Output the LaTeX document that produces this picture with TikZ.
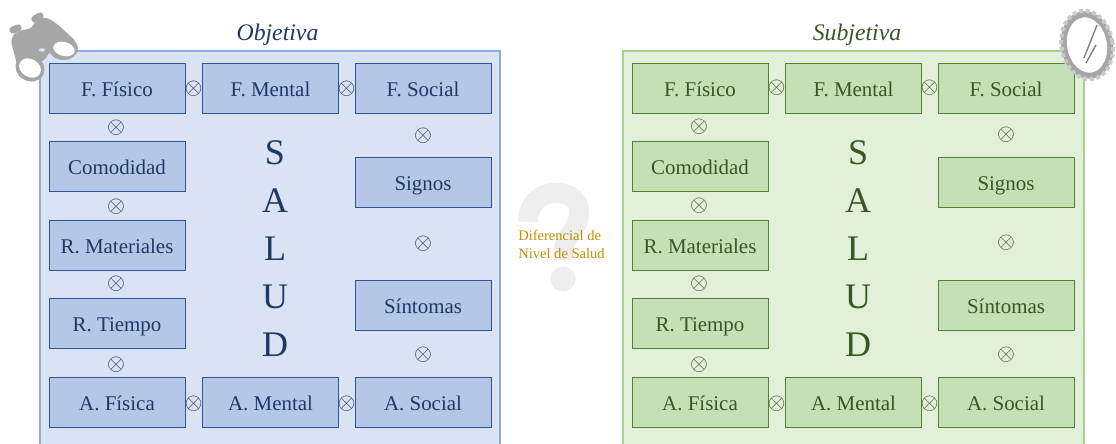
\documentclass[tikz,border=0pt]{standalone}
\usepackage{fontspec}
\setmainfont{Liberation Serif}
\definecolor{objpanel}{HTML}{DAE3F3}
\definecolor{objedge}{HTML}{8FAADC}
\definecolor{objbox}{HTML}{B4C7E7}
\definecolor{objline}{HTML}{2F5597}
\definecolor{objtext}{HTML}{203864}
\definecolor{subpanel}{HTML}{E2F0D9}
\definecolor{subedge}{HTML}{A9D18E}
\definecolor{subbox}{HTML}{C5E0B4}
\definecolor{subline}{HTML}{548235}
\definecolor{subtext}{HTML}{385723}
\definecolor{icongray}{HTML}{A6A6A6}
\definecolor{hintgold}{HTML}{BF9000}
\definecolor{hintgray}{HTML}{EEEEEE}
\tikzset{
  factor/.style={rectangle, draw, line width=0.7pt, minimum width=102pt, minimum height=37.5pt, inner sep=0pt, text height=14pt, text depth=1.2pt, font=\fontsize{15.7}{18}\selectfont},
  objfactor/.style={factor, draw=objline, fill=objbox, text=objtext},
  subfactor/.style={factor, draw=subline, fill=subbox, text=subtext},
  objcross/.style={inner sep=0pt, text=objtext, font=\fontsize{18}{20}\selectfont},
  subcross/.style={inner sep=0pt, text=subtext, font=\fontsize{18}{20}\selectfont},
  heading/.style={inner sep=0pt, font=\fontsize{17.8}{20}\selectfont\itshape},
  bigword/.style={inner sep=0pt, align=center, font=\fontsize{27}{36}\selectfont},
}
\begin{document}
\begin{tikzpicture}[x=0.75pt,y=-0.75pt]
    \useasboundingbox (0,0) rectangle (1116,443);
    \clip (0,0) rectangle (1116,443);

    % Drawing panels
    \fill [objpanel, draw=objedge, line width=0.8pt] (40,51) rectangle (500,460);
    \fill [subpanel, draw=subedge, line width=0.8pt] (623,51) rectangle (1084,460);

    % Marking headings
    \node [heading, text=objtext] (objTitle) at (277.5,35) {Objetiva};
    \node [heading, text=subtext] (subTitle) at (857,35) {Subjetiva};

    % Objetiva boxes
    \node [objfactor] (objFisico) at (117,88) {F. Físico};
    \node [objfactor] (objMental) at (270.5,88) {F. Mental};
    \node [objfactor] (objSocial) at (423,88) {F. Social};
    \node [objfactor] (objComodidad) at (117,166) {Comodidad};
    \node [objfactor] (objMateriales) at (117,245) {R. Materiales};
    \node [objfactor] (objTiempo) at (117,323) {R. Tiempo};
    \node [objfactor] (objSignos) at (423,182) {Signos};
    \node [objfactor] (objSintomas) at (423,305) {Síntomas};
    \node [objfactor] (objAfisica) at (117,402) {A. Física};
    \node [objfactor] (objAmental) at (270.5,402) {A. Mental};
    \node [objfactor] (objAsocial) at (423,402) {A. Social};

    % Objetiva crosses
    \node [objcross] (objCrossA) at (193.5,89) {$\otimes$};
    \node [objcross] (objCrossB) at (346.5,89) {$\otimes$};
    \node [objcross] (objCrossC) at (116,128) {$\otimes$};
    \node [objcross] (objCrossD) at (116,207) {$\otimes$};
    \node [objcross] (objCrossE) at (116,284) {$\otimes$};
    \node [objcross] (objCrossF) at (116,365) {$\otimes$};
    \node [objcross] (objCrossG) at (193.5,404) {$\otimes$};
    \node [objcross] (objCrossH) at (346.5,404) {$\otimes$};
    \node [objcross] (objCrossI) at (423,136) {$\otimes$};
    \node [objcross] (objCrossJ) at (423,244) {$\otimes$};
    \node [objcross] (objCrossK) at (423,355) {$\otimes$};

    % Objetiva word
    \node [bigword, text=objtext] (objSalud) at (275,248.5) {S\\A\\L\\U\\D};

    % Subjetiva boxes
    \node [subfactor] (subFisico) at (700,88) {F. Físico};
    \node [subfactor] (subMental) at (853.5,88) {F. Mental};
    \node [subfactor] (subSocial) at (1006,88) {F. Social};
    \node [subfactor] (subComodidad) at (700,166) {Comodidad};
    \node [subfactor] (subMateriales) at (700,245) {R. Materiales};
    \node [subfactor] (subTiempo) at (700,323) {R. Tiempo};
    \node [subfactor] (subSignos) at (1006,182) {Signos};
    \node [subfactor] (subSintomas) at (1006,305) {Síntomas};
    \node [subfactor] (subAfisica) at (700,402) {A. Física};
    \node [subfactor] (subAmental) at (853.5,402) {A. Mental};
    \node [subfactor] (subAsocial) at (1006,402) {A. Social};

    % Subjetiva crosses
    \node [subcross] (subCrossA) at (776.5,88) {$\otimes$};
    \node [subcross] (subCrossB) at (929.5,88) {$\otimes$};
    \node [subcross] (subCrossC) at (699,127) {$\otimes$};
    \node [subcross] (subCrossD) at (699,206) {$\otimes$};
    \node [subcross] (subCrossE) at (699,284) {$\otimes$};
    \node [subcross] (subCrossF) at (699,365) {$\otimes$};
    \node [subcross] (subCrossG) at (776.5,404) {$\otimes$};
    \node [subcross] (subCrossH) at (929.5,404) {$\otimes$};
    \node [subcross] (subCrossI) at (1006,135) {$\otimes$};
    \node [subcross] (subCrossJ) at (1006,243) {$\otimes$};
    \node [subcross] (subCrossK) at (1006,355) {$\otimes$};

    % Subjetiva word
    \node [bigword, text=subtext] (subSalud) at (858,248.5) {S\\A\\L\\U\\D};

    % Drawing question mark
    \draw [line width=15pt, hintgray, line cap=butt] (528,222) .. controls (528,184) and (579,186) .. (579,211) .. controls (579,234) and (563,230) .. (563,260);
    \fill [hintgray] (563,279) circle [radius=9.5pt];

    % Marking centre note
    \node [inner sep=0pt, align=left, text=hintgold, font=\fontsize{10.9}{13.5}\selectfont] (hintNote) at (561.5,244) {Diferencial de\\Nivel de Salud};

    % Drawing binoculars
    \fill [icongray, rounded corners=5] (10,38) -- (19,30) -- (33,29) -- (35,20) -- (43,16) -- (55,22) -- (78,43) -- (70,52) -- (50,50) -- (44,62) -- (18,68) -- cycle;
    \draw [line width=5.5pt, icongray, line cap=round] (13,30) -- (18,28);
    \draw [line width=5.5pt, icongray, line cap=round] (35,19) -- (40,16);
    \fill [icongray, rotate around={-30:(30,68)}] (30,68) ellipse [x radius=15, y radius=13];
    \fill [icongray] (63.5,48.5) ellipse [x radius=14.5, y radius=11.5];
    \fill [white, rotate around={-30:(30,68)}] (30,68) ellipse [x radius=11.5, y radius=9];
    \fill [white, rotate around={-15:(64,49)}] (64,49) ellipse [x radius=11, y radius=7];
    \fill [objpanel] (42,50) ellipse [x radius=3, y radius=1.7];

    % Drawing mirror
    \fill [white, draw=icongray, line width=4.5pt, rotate around={10:(1087,45)}] (1087,45) ellipse [x radius=23, y radius=31];
    \draw [icongray!60, line width=3pt, dotted, rotate around={10:(1087,45)}] (1087,45) ellipse [x radius=25.5, y radius=34.5];
    \draw [gray, line width=1pt] (1097,25) -- (1084,58);
    \draw [gray, line width=1pt] (1096,45) -- (1086,63);
\end{tikzpicture}
\end{document}
